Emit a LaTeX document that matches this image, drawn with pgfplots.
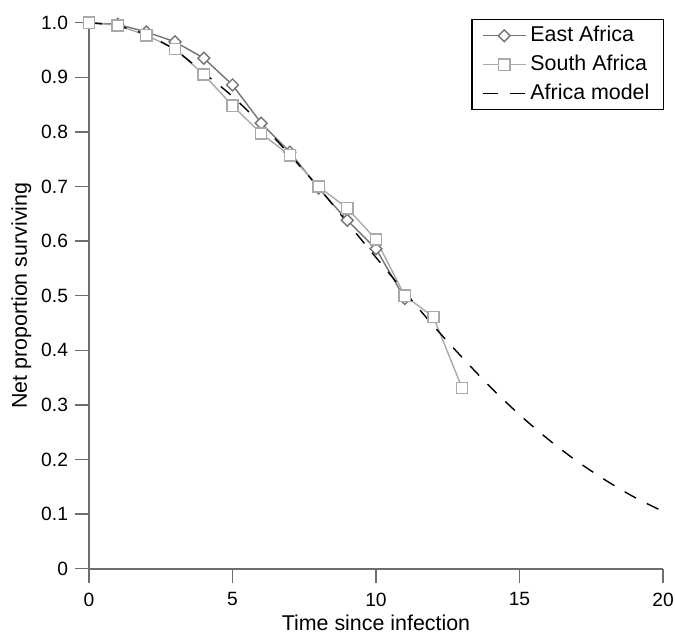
\documentclass[border=0pt]{standalone}
\usepackage{pgfplots}
\pgfplotsset{compat=1.18}
\usepackage{fontspec}
\setmainfont{Liberation Sans}

\definecolor{eastgray}{HTML}{747474}
\definecolor{southgray}{HTML}{A9A9A9}
\definecolor{axisgray}{HTML}{6E6E6E}

\pgfplotsset{
    marklegend/.style={
        legend image code/.code={
            \draw[mark repeat=2, mark phase=2, ##1] plot coordinates {(0pt,0pt) (10.75pt,0pt) (21.5pt,0pt)};
        },
    },
    dashlegend/.style={
        legend image code/.code={
            \draw[##1, dash pattern=on 7.5pt off 6pt] (0pt,0pt) -- (21pt,0pt);
        },
    },
}

\begin{document}
\begin{tikzpicture}
    \begin{axis}[
            width=287pt,
            height=273pt,
            scale only axis,
            xmin=0, xmax=20,
            ymin=0, ymax=1,
            axis x line=bottom,
            axis y line=left,
            axis line style={axisgray, line width=0.9pt, -},
            tick style={axisgray, line width=0.75pt},
            tick align=outside,
            major tick length=7pt,
            xtick={0,5,10,15,20},
            ytick={0,0.1,0.2,0.3,0.4,0.5,0.6,0.7,0.8,0.9,1.0},
            yticklabels={0,0.1,0.2,0.3,0.4,0.5,0.6,0.7,0.8,0.9,1.0},
            /pgf/number format/assume math mode=true,
            ticklabel style={font=\fontsize{9.6}{11}\selectfont},
            xticklabel style={inner sep=0pt, yshift=-4.8pt},
            label style={font=\fontsize{10.7}{12}\selectfont, inner sep=0pt},
            xlabel={Time since infection},
            ylabel={Net proportion surviving},
            xlabel style={at={(axis description cs:0.5,0)}, anchor=base, yshift=-31pt},
            ylabel style={at={(axis description cs:0,0.5)}, anchor=base, yshift=31pt},
            clip=false,
            legend style={
                at={(axis description cs:1,1)}, anchor=north east,
                xshift=0.5pt, yshift=1.9pt,
                draw=black, line width=0.6pt,
                font=\fontsize{10.7}{12}\selectfont,
                inner xsep=5pt, inner ysep=1.5pt,
                row sep=1.2pt,
                legend cell align=left,
            },
        ]
        \addplot[
            color=eastgray,
            line width=0.7pt,
            mark=square*,
            mark size=2.1pt,
            mark options={fill=white, line width=0.7pt, rotate=45},
            marklegend,
        ]
        coordinates {
                (0, 1.000)
                (1, 0.997)
                (2, 0.983)
                (3, 0.965)
                (4, 0.935)
                (5, 0.886)
                (6, 0.816)
                (7, 0.763)
                (8, 0.697)
                (9, 0.638)
                (10, 0.586)
                (11, 0.495)
            };
        \addlegendentry{East Africa}
        \addplot[
            color=southgray,
            line width=0.7pt,
            mark=square*,
            mark size=2.8pt,
            mark options={fill=white, line width=0.7pt},
            marklegend,
        ]
        coordinates {
                (0, 1.000)
                (1, 0.995)
                (2, 0.977)
                (3, 0.952)
                (4, 0.905)
                (5, 0.848)
                (6, 0.797)
                (7, 0.757)
                (8, 0.700)
                (9, 0.660)
                (10, 0.603)
                (11, 0.500)
                (12, 0.461)
                (13, 0.331)
            };
        \addlegendentry{South Africa}
        \addplot[
            color=black,
            line width=0.7pt,
            dash pattern=on 6.5pt off 6pt,
            smooth,
            dashlegend,
        ]
        coordinates {
                (0, 1.000)
                (1, 0.994)
                (2, 0.978)
                (3, 0.950)
                (4, 0.908)
                (5, 0.865)
                (6, 0.814)
                (7, 0.758)
                (8, 0.698)
                (9, 0.634)
                (10, 0.570)
                (11, 0.507)
                (12, 0.445)
                (13, 0.387)
                (14, 0.332)
                (15, 0.282)
                (16, 0.237)
                (17, 0.197)
                (18, 0.162)
                (19, 0.131)
                (20, 0.105)
            };
        \addlegendentry{Africa model}
    \end{axis}
    \path (current axis.south west) ++(-44.5pt,-33.5pt) coordinate (bbsw);
    \path (current axis.north east) ++(6pt,11.35pt) coordinate (bbne);
    \path[use as bounding box] (bbsw) rectangle (bbne);
\end{tikzpicture}
\end{document}
